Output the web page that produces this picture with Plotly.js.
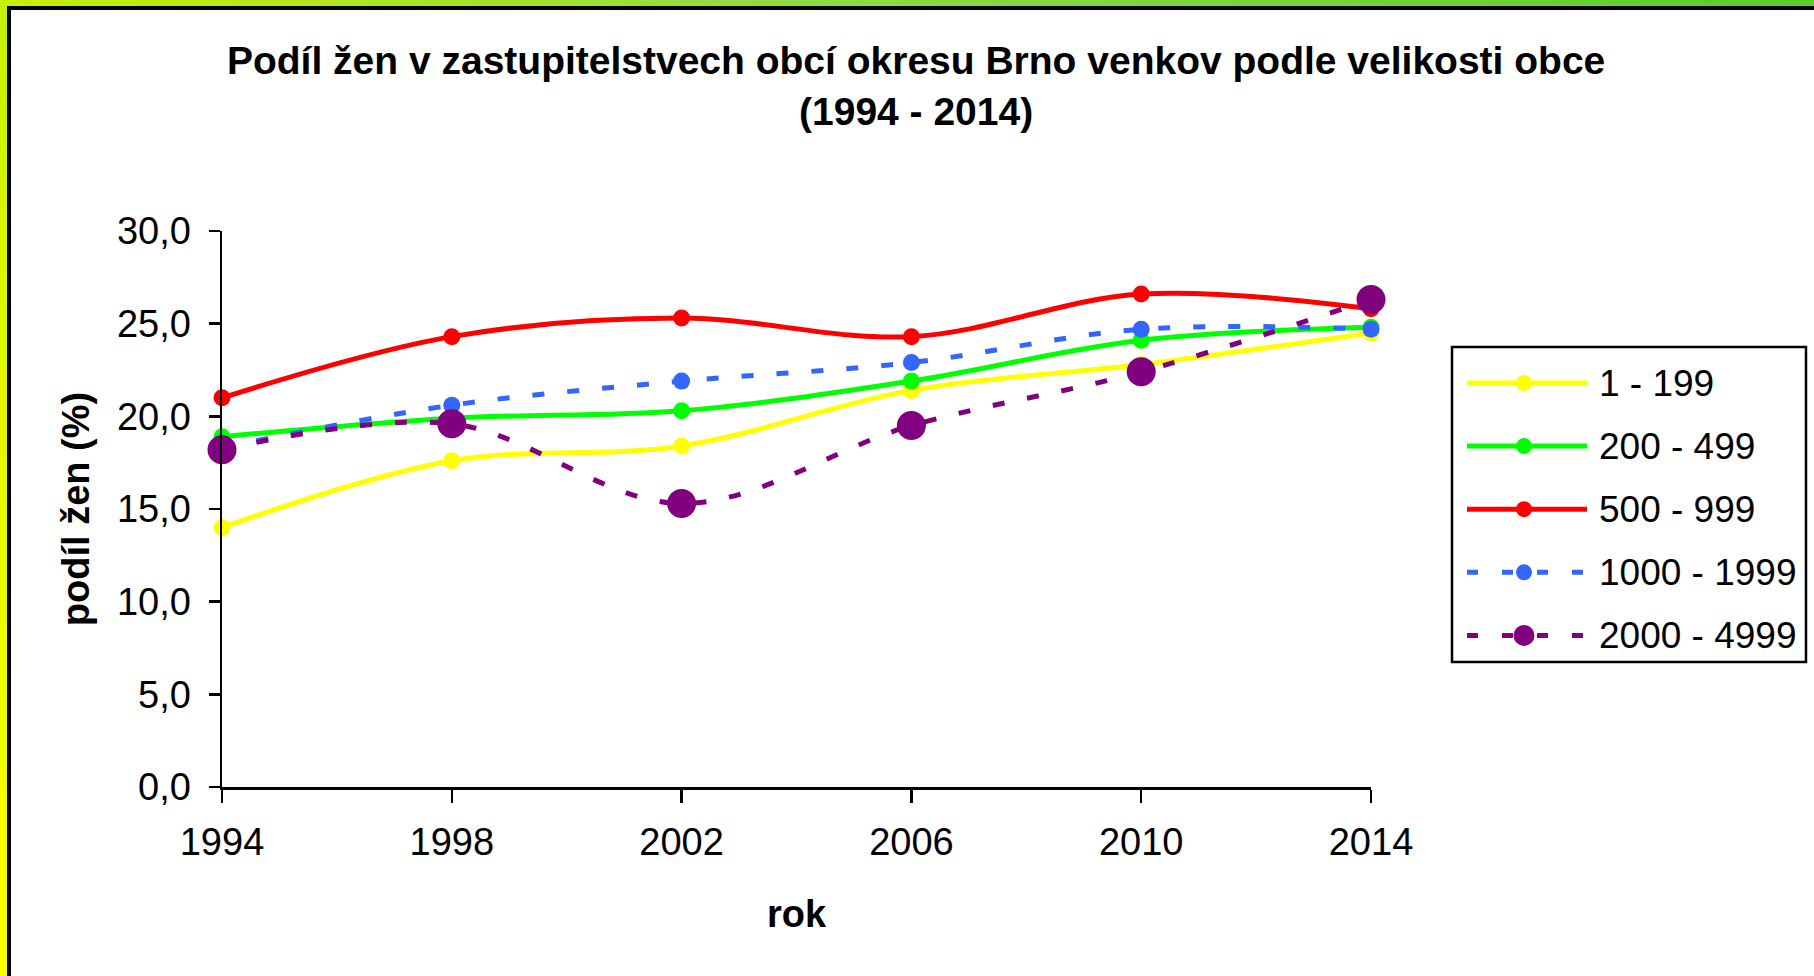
<!DOCTYPE html>
<html>
<head>
<meta charset="utf-8">
<script src="https://cdn.plot.ly/plotly-3.0.1.min.js"></script>
<style>
  html, body { margin:0; padding:0; width:1814px; height:976px; overflow:hidden; background:#fff; }
  #stripTop { position:absolute; left:0; top:0; width:1814px; height:7px;
    background: linear-gradient(to right, #c6ef08 0%, #a8e228 25%, #8fdb45 45%, #79d33c 70%, #5ccb30 100%); }
  #stripLeft { position:absolute; left:0; top:0; width:7px; height:976px;
    background: linear-gradient(to bottom, #c6ef08 0%, #e4f800 40%, #f8ff00 100%); }
  #frame { position:absolute; left:7px; top:6px; width:1807px; height:970px; box-sizing:border-box;
    border-left:4px solid #000; border-top:4px solid #000; background:#fff; }
  #chart { position:absolute; left:11px; top:10px; width:1803px; height:966px; }
</style>
</head>
<body>
<div id="stripTop"></div>
<div id="stripLeft"></div>
<div id="frame"></div>
<div id="chart"></div>
<script>
// ---- data ----
const years = [1994, 1998, 2002, 2006, 2010, 2014];
const yearLabels = ["1994", "1998", "2002", "2006", "2010", "2014"];
const seriesNames = ["1 - 199", "200 - 499", "500 - 999", "1000 - 1999", "2000 - 4999"];
const s1_199 = [14.0, 17.6, 18.4, 21.4, 22.8, 24.5];
const s200_499 = [18.9, 19.9, 20.3, 21.9, 24.1, 24.8];
const s500_999 = [21.0, 24.3, 25.3, 24.3, 26.6, 25.8];
const s1000_1999 = [18.3, 20.6, 21.9, 22.9, 24.7, 24.7];
const s2000_4999 = [18.2, 19.6, 15.3, 19.5, 22.4, 26.3];
const yTickVals = [0, 5, 10, 15, 20, 25, 30];
const yTickLabels = ["0,0", "5,0", "10,0", "15,0", "20,0", "25,0", "30,0"];

// ---- styles ----
const FONT = "Arial, 'Liberation Sans', sans-serif";
const colors = ["#FFFF00", "#00FF00", "#FF0000", "#3366FF", "#800080"];
const dashes = ["solid", "solid", "solid", "12px,23px", "12px,23px"];
const msizes = [17, 17, 17, 17, 29];
const values = [s1_199, s200_499, s500_999, s1000_1999, s2000_4999];

const W = 1803, H = 966;
const M = {l: 211, r: 443, t: 221, b: 189, pad: 0};
const PW = W - M.l - M.r, PH = H - M.t - M.b;
const OX = 11, OY = 10; // chart div offset on page
function px(xf) { return (xf - OX - M.l) / PW; }
function py(yf) { return 1 - (yf - OY - M.t) / PH; }

const traces = values.map((v, i) => ({
  type: "scatter",
  mode: "lines+markers",
  name: seriesNames[i],
  x: years,
  y: v,
  line: {color: colors[i], width: 5, dash: dashes[i], shape: "spline", smoothing: 1},
  marker: {color: colors[i], size: msizes[i], line: {width: 0}},
  cliponaxis: false,
  showlegend: false,
  hoverinfo: "skip"
}));

// ---- custom legend (shapes + annotations) ----
const shapes = [];
const annotations = [];
const legBox = {x0: 1452, x1: 1806, y0: 347, y1: 662};
shapes.push({type: "rect", xref: "paper", yref: "paper",
  x0: px(legBox.x0), x1: px(legBox.x1), y0: py(legBox.y1), y1: py(legBox.y0),
  line: {color: "#000", width: 2.5}, fillcolor: "rgba(0,0,0,0)"});
const legMarker = [16, 16, 16, 16, 21];
seriesNames.forEach((name, i) => {
  const yr = 383 + i * 63.1;
  shapes.push({type: "line", xref: "paper", yref: "paper",
    x0: px(1467), x1: px(1587), y0: py(yr), y1: py(yr),
    line: {color: colors[i], width: 5, dash: i >= 3 ? "11px,24px" : "solid"}});
  const r = legMarker[i] / 2;
  shapes.push({type: "circle", xref: "paper", yref: "paper",
    xsizemode: "pixel", ysizemode: "pixel", xanchor: px(1524), yanchor: py(yr),
    x0: -r, x1: r, y0: -r, y1: r, fillcolor: colors[i], line: {width: 0}});
  annotations.push({xref: "paper", yref: "paper", x: px(1597), y: py(yr),
    xanchor: "left", yanchor: "middle", showarrow: false, text: name,
    font: {family: FONT, size: 37, color: "#000"}});
});

const layout = {
  width: W, height: H,
  margin: M,
  paper_bgcolor: "#ffffff",
  plot_bgcolor: "#ffffff",
  separators: ", ",
  showlegend: false,
  title: {
    text: "<b>Podíl žen v zastupitelstvech obcí okresu Brno venkov podle velikosti obce<br>(1994 - 2014)</b>",
    font: {family: FONT, size: 39, color: "#000"},
    xref: "container", x: 0.502, xanchor: "center",
    yref: "container", y: 1 - 64 / H, yanchor: "middle"
  },
  xaxis: {
    range: [1994, 2014],
    tickvals: years, ticktext: yearLabels,
    showline: true, linecolor: "#000", linewidth: 3,
    ticks: "outside", ticklen: 13, tickwidth: 2.5, tickcolor: "#000",
    ticklabelstandoff: 6,
    showgrid: false, zeroline: false,
    tickfont: {family: FONT, size: 38, color: "#000"},
    title: {text: "<b>rok</b>", font: {family: FONT, size: 38, color: "#000"}, standoff: 39}
  },
  yaxis: {
    range: [0, 30],
    tickvals: yTickVals, ticktext: yTickLabels,
    showline: true, linecolor: "#000", linewidth: 2.5,
    ticks: "outside", ticklen: 11, tickwidth: 2.5, tickcolor: "#000",
    ticklabelstandoff: 10,
    showgrid: false, zeroline: false,
    tickfont: {family: FONT, size: 38, color: "#000"},
    title: {text: "<b>podíl žen (%)</b>", font: {family: FONT, size: 38, color: "#000"}, standoff: 16}
  },
  shapes: shapes,
  annotations: annotations
};

Plotly.newPlot("chart", traces, layout, {displayModeBar: false, staticPlot: true});
</script>
</body>
</html>
